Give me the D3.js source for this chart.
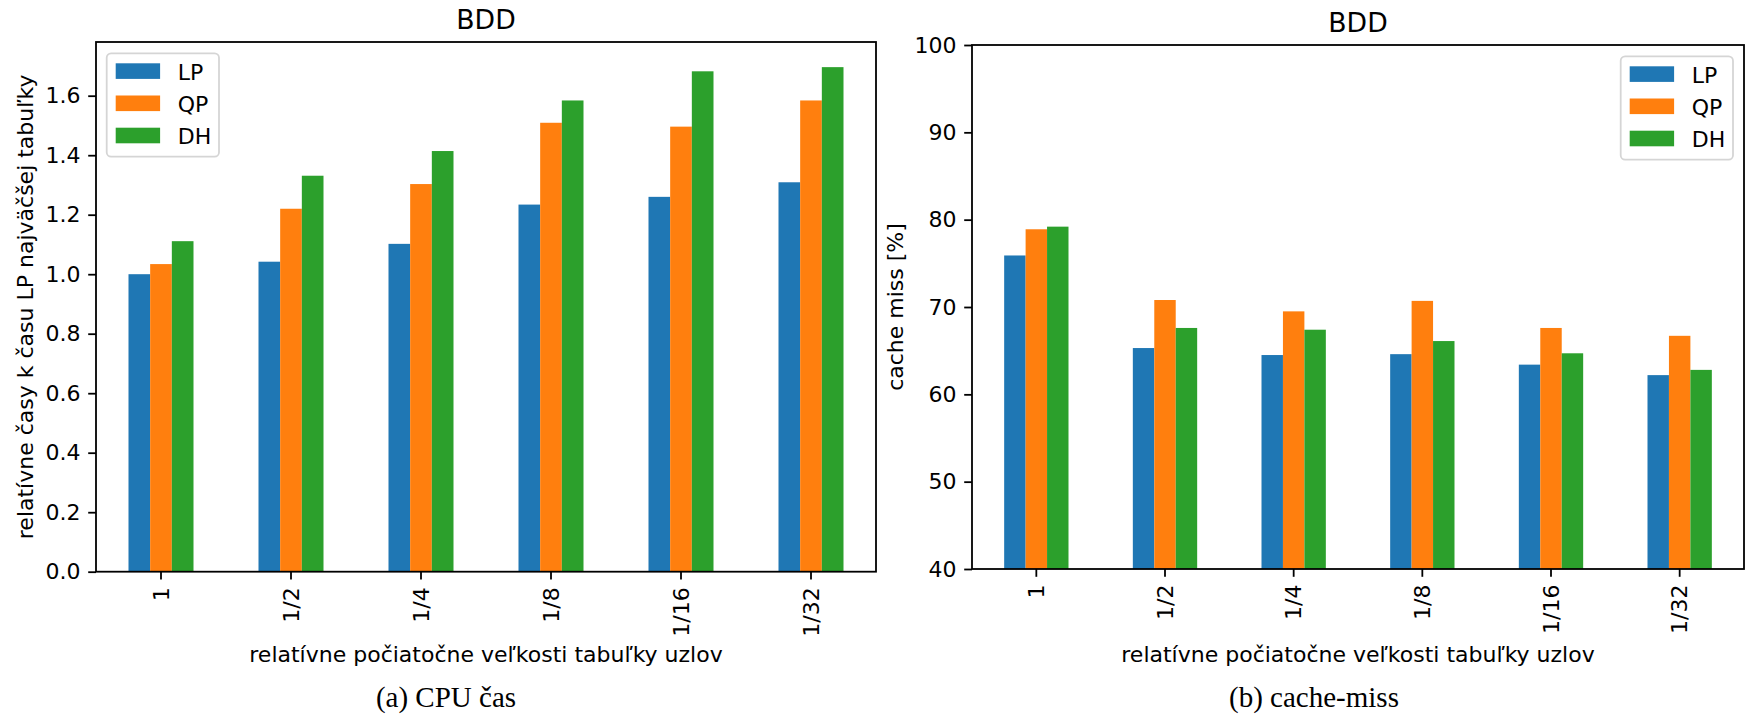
<!DOCTYPE html>
<html><head><meta charset="utf-8">
<script src="https://cdn.jsdelivr.net/npm/d3@7"></script>
<style>
html,body{margin:0;padding:0;background:#fff;}
svg{display:block;}
text{font-family:"DejaVu Sans",sans-serif;fill:#000;}
.cap{font-family:"Liberation Serif",serif;}
</style></head>
<body>
<svg id="c" width="1746" height="719"></svg>
<script>
const categories = ["1","1/2","1/4","1/8","1/16","1/32"];
const seriesNames = ["LP","QP","DH"];
const colors = ["#1f77b4","#ff7f0e","#2ca02c"];
// (a) CPU time, relative to LP at the largest table
const cpuLP = [1.000,1.042,1.102,1.234,1.260,1.309];
const cpuQP = [1.034,1.220,1.303,1.509,1.496,1.584];
const cpuDH = [1.111,1.331,1.414,1.584,1.682,1.696];
const cpuTicks = [0.0,0.2,0.4,0.6,0.8,1.0,1.2,1.4,1.6];
// (b) cache-miss [%]
const cmLP = [75.9,65.3,64.5,64.6,63.4,62.2];
const cmQP = [78.9,70.8,69.5,70.7,67.6,66.7];
const cmDH = [79.2,67.6,67.4,66.1,64.7,62.8];
const cmTicks = [40,50,60,70,80,90,100];

const svg = d3.select("#c");
const FS = 22, LW = 1.8, TL = 7.8, PAD = 7.8;

function panel(o){
  const g = svg.append("g");
  const x = d3.scaleBand().domain(categories).range([o.x0,o.x1]).paddingInner(0.5).paddingOuter(0.25);
  const xs = d3.scaleBand().domain(seriesNames).range([0,x.bandwidth()]).padding(0);
  const y = d3.scaleLinear().domain(o.ydom).range([o.y1,o.y0]);
  const data = [o.s[0],o.s[1],o.s[2]];
  seriesNames.forEach((s,si)=>{
    g.append("g").selectAll("rect").data(data[si]).join("rect")
      .attr("x",(d,i)=>x(categories[i])+xs(s))
      .attr("width",xs.bandwidth())
      .attr("y",d=>y(d))
      .attr("height",d=>y(o.ydom[0])-y(d))
      .attr("fill",colors[si]);
  });
  // axes
  const ax = g.append("g").attr("transform",`translate(0,${o.y1})`)
    .call(d3.axisBottom(x).tickSize(TL).tickPadding(PAD).tickSizeOuter(0));
  ax.select(".domain").remove();
  ax.selectAll(".tick line").attr("stroke","#000").attr("stroke-width",LW);
  ax.selectAll(".tick text").attr("font-size",FS).attr("font-family","DejaVu Sans")
    .attr("transform","rotate(-90)").attr("text-anchor","end")
    .attr("x",-(TL+PAD)).attr("y",0).attr("dy","0.35em");
  const ay = g.append("g").attr("transform",`translate(${o.x0},0)`)
    .call(d3.axisLeft(y).tickValues(o.ticks).tickFormat(o.fmt).tickSize(TL).tickPadding(PAD));
  ay.select(".domain").remove();
  ay.selectAll(".tick line").attr("stroke","#000").attr("stroke-width",LW);
  ay.selectAll(".tick text").attr("font-size",FS).attr("font-family","DejaVu Sans");
  g.append("rect").attr("x",o.x0).attr("y",o.y0).attr("width",o.x1-o.x0).attr("height",o.y1-o.y0)
    .attr("fill","none").attr("stroke","#000").attr("stroke-width",LW);
  const cx = (o.x0+o.x1)/2, cy=(o.y0+o.y1)/2;
  g.append("text").attr("x",cx).attr("y",o.y0-13.3).attr("text-anchor","middle").attr("font-size",26.7).text(o.title);
  g.append("text").attr("x",cx).attr("y",o.xlY).attr("text-anchor","middle").attr("font-size",FS).text(o.xlabel);
  g.append("text").attr("transform",`translate(${o.ylX},${cy}) rotate(-90)`).attr("text-anchor","middle")
    .attr("dy","0.35em").attr("font-size",FS).text(o.ylabel);
  g.append("text").attr("class","cap").attr("x",o.capX).attr("y",707).attr("text-anchor","middle")
    .attr("font-size",29).text(o.caption);
  // legend
  const lw=112.3, lh=103.4;
  const lx = o.legRight ? o.x1-11-lw : o.x0+10.7;
  const ly = o.y0+11.3;
  const lg = g.append("g").attr("transform",`translate(${lx},${ly})`);
  lg.append("rect").attr("width",lw).attr("height",lh).attr("rx",4.4).attr("fill","#fff")
    .attr("fill-opacity",0.8).attr("stroke","#d5d5d5").attr("stroke-width",1.8);
  seriesNames.forEach((s,i)=>{
    lg.append("rect").attr("x",9).attr("y",10+i*32.2).attr("width",44.4).attr("height",15.6).attr("fill",colors[i]);
    lg.append("text").attr("x",71).attr("y",26.8+i*32.2).attr("font-size",FS).text(s);
  });
}

panel({x0:96,x1:876,y0:42,y1:571.7,ydom:[0,1.7805],ticks:cpuTicks,fmt:d3.format(".1f"),
  s:[cpuLP,cpuQP,cpuDH],title:"BDD",xlabel:"relatívne počiatočne veľkosti tabuľky uzlov",
  ylabel:"relatívne časy k času LP najväčšej tabuľky",xlY:662,ylX:25,caption:"(a) CPU čas",capX:446,legRight:false});
panel({x0:972,x1:1744,y0:45,y1:569,ydom:[40,100],ticks:cmTicks,fmt:d3.format("d"),
  s:[cmLP,cmQP,cmDH],title:"BDD",xlabel:"relatívne počiatočne veľkosti tabuľky uzlov",
  ylabel:"cache miss [%]",xlY:662,ylX:895,caption:"(b) cache-miss",capX:1314,legRight:true});
</script>
</body></html>
